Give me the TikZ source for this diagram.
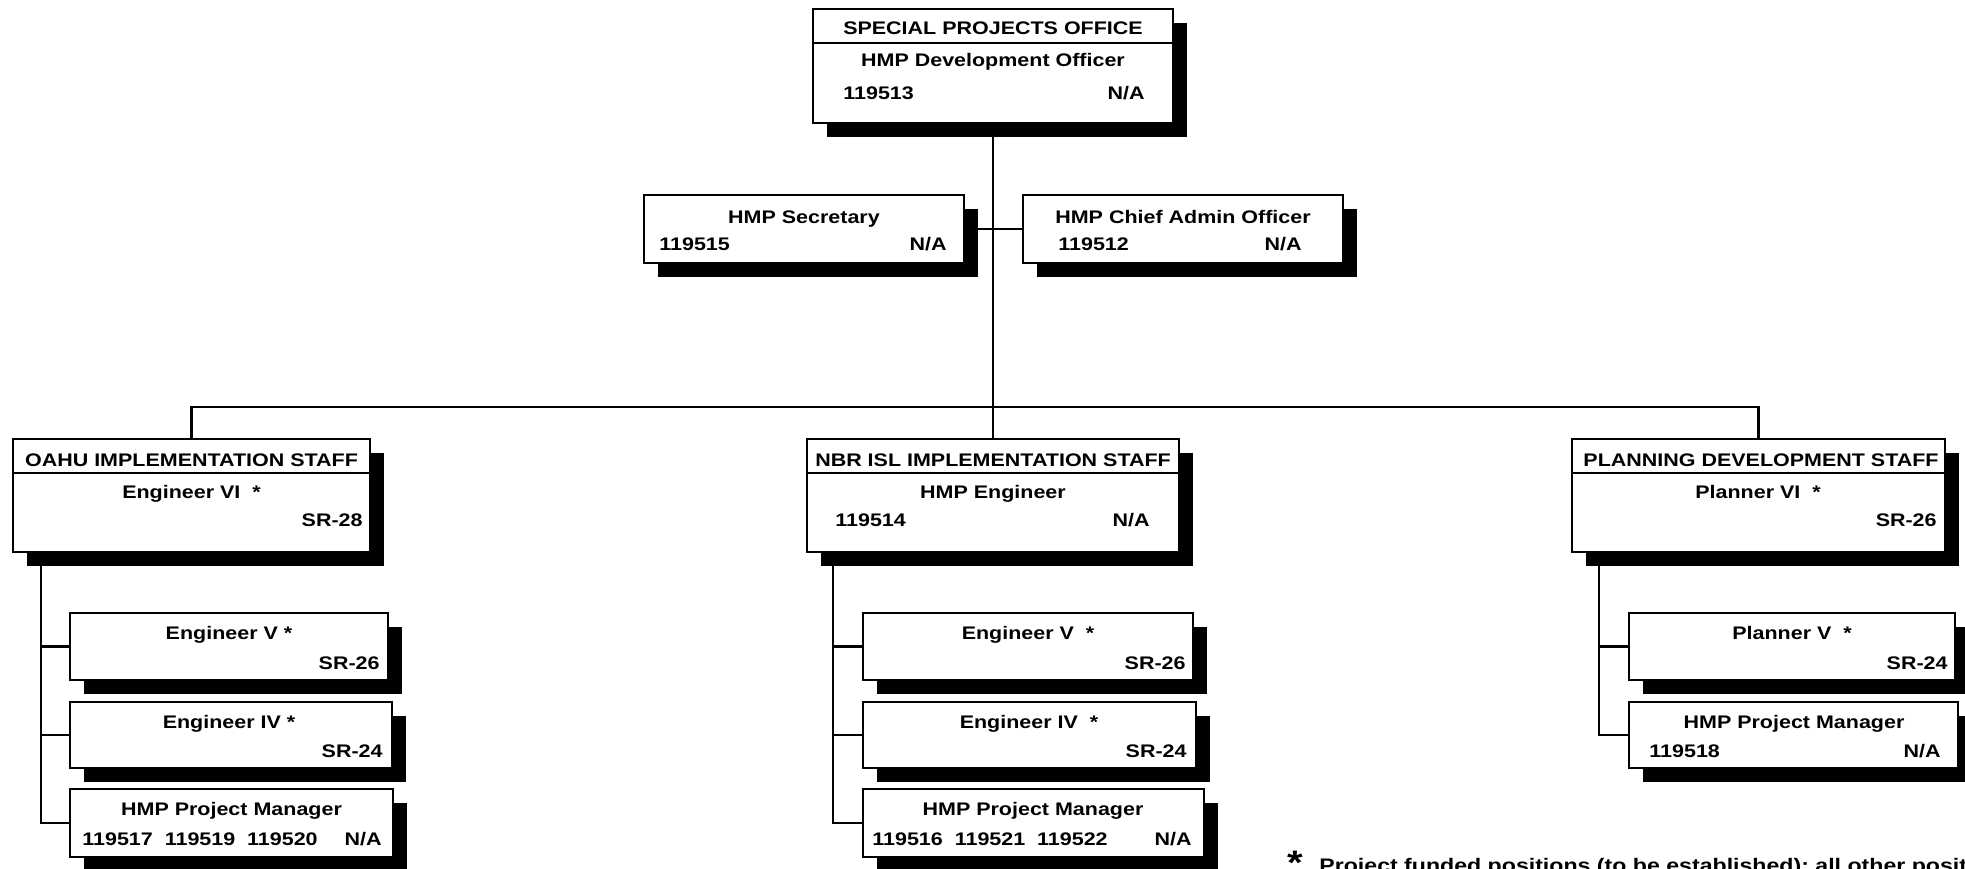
\documentclass[tikz,border=0pt]{standalone}
\usepackage{fontspec}
\setmainfont{Liberation Sans}[FakeStretch=1.18]
\usetikzlibrary{fit,shadows,calc}
\begin{document}
\begin{tikzpicture}[x=0.5pt,y=-0.5pt,
  box/.style={draw=black, line width=1.2pt, fill=white, inner sep=0pt,
    drop shadow={shadow xshift=7.2pt, shadow yshift=-7.2pt, fill=black, opacity=1}},
  conn/.style={draw=black, line width=1.2pt},
  lab/.style={inner sep=0pt, font=\fontsize{9.1pt}{11pt}\selectfont\bfseries, yshift=-3.25pt},
  lc/.style={lab, anchor=base},
  ll/.style={lab, anchor=base west},
  lr/.style={lab, anchor=base east},
]
\useasboundingbox (0,0) rectangle (1965,868);
\fill[white] (0,0) rectangle (1965,868);
\clip (0,0) rectangle (1965,868);

% top box
\node[box, fit={(813,9) (1173,123)}] (spo) {};
\draw[conn] (813,43) -- (1173,43);
\node[lc] (spoH) at (993,27.5) {SPECIAL PROJECTS OFFICE};
\node[lc] (spoT) at (993,60) {HMP Development Officer};
\node[ll] (spoN) at (843,92.5) {119513};
\node[lr] (spoR) at (1145,92.5) {N/A};

% secretary / chief admin
\node[box, fit={(644,195) (964,263)}] (sec) {};
\node[lc] (secT) at (804,217) {HMP Secretary};
\node[ll] (secN) at (659,244) {119515};
\node[lr] (secR) at (947,244) {N/A};

\node[box, fit={(1023,195) (1343,263)}] (chief) {};
\node[lc] (chiefT) at (1183,217) {HMP Chief Admin Officer};
\node[ll] (chiefN) at (1058,244) {119512};
\node[lr] (chiefR) at (1302,244) {N/A};

% staff headers
\node[box, fit={(13,439) (370,552)}] (oahu) {};
\draw[conn] (13,473) -- (370,473);
\node[lc] (oahuH) at (191.5,460) {OAHU IMPLEMENTATION STAFF};
\node[lc] (oahuT) at (191.5,492) {Engineer VI\ \ *};
\node[lr] (oahuR) at (363,520) {SR-28};

\node[box, fit={(807,439) (1179,552)}] (nbr) {};
\draw[conn] (807,473) -- (1179,473);
\node[lc] (nbrH) at (993,459.5) {NBR ISL IMPLEMENTATION STAFF};
\node[lc] (nbrT) at (993,492) {HMP Engineer};
\node[ll] (nbrN) at (835,520) {119514};
\node[lr] (nbrR) at (1150,520) {N/A};

\node[box, fit={(1572,439) (1945,552)}] (plan) {};
\draw[conn] (1572,473) -- (1945,473);
\node[lc] (planH) at (1761,460) {PLANNING DEVELOPMENT STAFF};
\node[lc] (planT) at (1758,492) {Planner VI\ \ *};
\node[lr] (planR) at (1937,520) {SR-26};

% OAHU subordinates
\node[box, fit={(70,613) (388,680)}] (oE5) {};
\node[lc] (oE5T) at (229,633.3) {Engineer V *};
\node[lr] (oE5R) at (380,662.7) {SR-26};
\node[box, fit={(70,702) (392,768)}] (oE4) {};
\node[lc] (oE4T) at (229,721.7) {Engineer IV *};
\node[lr] (oE4R) at (383,750.7) {SR-24};
\node[box, fit={(70,789) (393,857)}] (oPM) {};
\node[lc] (oPMT) at (231.5,809.3) {HMP Project Manager};
\node[ll] (oPMN) at (82,838.7) {119517\ \ 119519\ \ 119520};
\node[lr] (oPMR) at (382,838.7) {N/A};

% NBR subordinates
\node[box, fit={(863,613) (1193,680)}] (nE5) {};
\node[lc] (nE5T) at (1028,633.3) {Engineer V\ \ *};
\node[lr] (nE5R) at (1186,662.7) {SR-26};
\node[box, fit={(863,702) (1196,768)}] (nE4) {};
\node[lc] (nE4T) at (1029,721.7) {Engineer IV\ \ *};
\node[lr] (nE4R) at (1187,750.7) {SR-24};
\node[box, fit={(863,789) (1204,857)}] (nPM) {};
\node[lc] (nPMT) at (1033,809.3) {HMP Project Manager};
\node[ll] (nPMN) at (872,838.7) {119516\ \ 119521\ \ 119522};
\node[lr] (nPMR) at (1192,838.7) {N/A};

% Planning subordinates
\node[box, fit={(1629,613) (1955,680)}] (pP5) {};
\node[lc] (pP5T) at (1792,633.3) {Planner V\ \ *};
\node[lr] (pP5R) at (1948,662.7) {SR-24};
\node[box, fit={(1629,702) (1958,768)}] (pPM) {};
\node[lc] (pPMT) at (1794,721.7) {HMP Project Manager};
\node[ll] (pPMN) at (1649,750.7) {119518};
\node[lr] (pPMR) at (1941,750.7) {N/A};

% connectors
\draw[conn] (spo.south) -- (nbr.north);
\draw[conn] (sec.east) -- (chief.west);
\coordinate (bus) at (993,407);
\draw[conn] (oahu.north) |- (bus) -| (plan.north);

\coordinate (oS) at (41,552);
\draw[conn] (oS) |- (oPM.west);
\draw[conn] (oS |- oE5.west) -- (oE5.west);
\draw[conn] (oS |- oE4.west) -- (oE4.west);

\coordinate (nS) at (833,552);
\draw[conn] (nS) |- (nPM.west);
\draw[conn] (nS |- nE5.west) -- (nE5.west);
\draw[conn] (nS |- nE4.west) -- (nE4.west);

\coordinate (pS) at (1599,552);
\draw[conn] (pS) |- (pPM.west);
\draw[conn] (pS |- pP5.west) -- (pP5.west);

% footnote
\node[inner sep=0pt, anchor=north, font=\fontsize{17pt}{17pt}\selectfont\bfseries] (fstar) at (1295,851) {*};
\node[inner sep=0pt, anchor=base west, font=\fontsize{9.8pt}{12pt}\selectfont\bfseries] (fnote) at (1319,872) {Project funded positions (to be established); all other posit};
\end{tikzpicture}
\end{document}
